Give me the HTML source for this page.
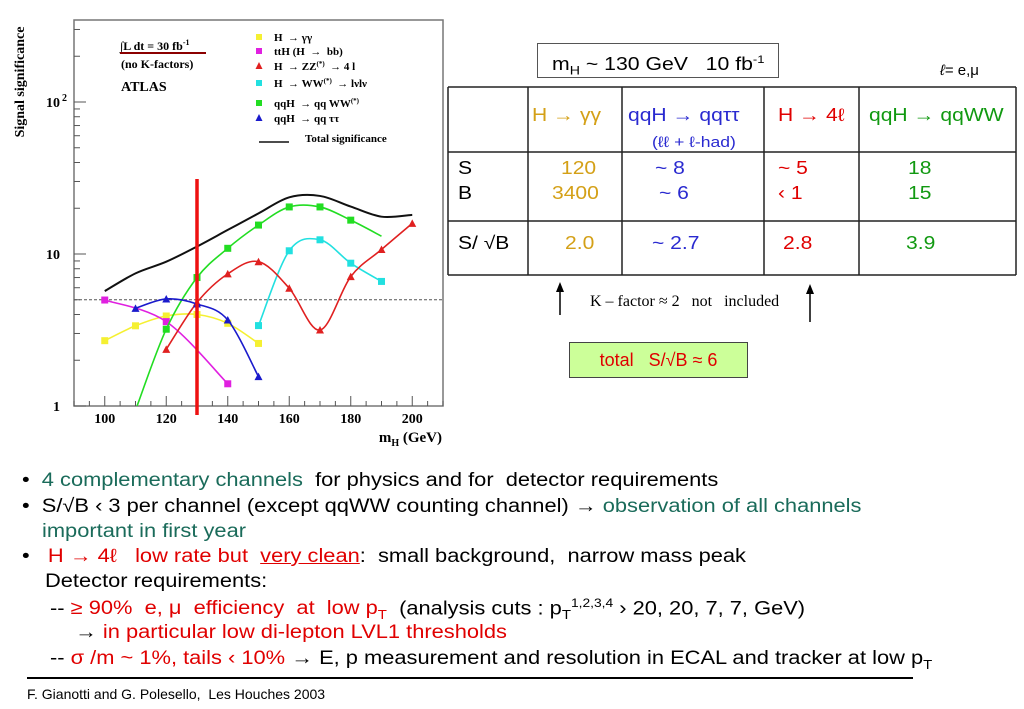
<!DOCTYPE html>
<html><head><meta charset="utf-8">
<style>
body{margin:0;width:1024px;height:709px;background:#fff;position:relative;overflow:hidden;font-family:"Liberation Sans",sans-serif;}
.a{position:absolute;white-space:nowrap;}
.t{font-size:18px;transform:scaleX(1.17);transform-origin:left center;}
.bl{position:absolute;white-space:nowrap;font-size:19px;color:#000;transform:scaleX(1.15);transform-origin:left center;}
.gr{color:#1a6b5a}.rd{color:#e00000}
</style></head>
<body>
<svg width="452" height="452" style="position:absolute;left:0;top:0" id="chart" font-family="Liberation Serif,serif"></svg>

<div class="a" style="left:537px;top:43px;width:242px;height:35px;border:1.5px solid #555;box-sizing:border-box;font-size:18px;line-height:33px;padding-left:14px;"><span style="display:inline-block;transform:scaleX(1.18);transform-origin:left center">m<sub style="font-size:12px">H</sub> ~ 130 GeV &nbsp; 10 fb<sup style="font-size:11px">-1</sup></span></div>
<div class="a" style="left:940px;top:62px;font-size:15px;"><i>ℓ</i>= e,μ</div>
<svg width="1024" height="330" style="position:absolute;left:0;top:0">
<g stroke="#222" stroke-width="1.5">
<line x1="448" y1="87" x2="1016" y2="87"/><line x1="448" y1="152" x2="1016" y2="152"/>
<line x1="448" y1="221" x2="1016" y2="221"/><line x1="448" y1="275" x2="1016" y2="275"/>
<line x1="448" y1="87" x2="448" y2="275"/><line x1="528" y1="87" x2="528" y2="275"/>
<line x1="622" y1="87" x2="622" y2="275"/><line x1="764" y1="87" x2="764" y2="275"/>
<line x1="859" y1="87" x2="859" y2="275"/><line x1="1016" y1="87" x2="1016" y2="275"/>
</g>
<g stroke="#000" stroke-width="1.5"><line x1="560" y1="287" x2="560" y2="315"/><line x1="810" y1="289" x2="810" y2="322"/></g>
<polygon points="560,282 556,292 564,292" fill="#000"/><polygon points="810,284 806,294 814,294" fill="#000"/>
</svg>
<div class="a t" style="left:532px;top:105px;color:#d4a017">H → γγ</div>
<div class="a t" style="left:628px;top:105px;color:#2a2ad0">qqH → qqττ</div>
<div class="a t" style="left:652px;top:134px;color:#2a2ad0;font-size:15px">(ℓℓ + ℓ-had)</div>
<div class="a t" style="left:778px;top:105px;color:#e00000">H → 4ℓ</div>
<div class="a t" style="left:869px;top:105px;color:#119911">qqH → qqWW</div>
<div class="a t" style="left:458px;top:158px">S</div>
<div class="a t" style="left:458px;top:183px">B</div>
<div class="a t" style="left:458px;top:233px">S/ √B</div>
<div class="a t" style="left:561px;top:158px;color:#d4a017">120</div>
<div class="a t" style="left:552px;top:183px;color:#d4a017">3400</div>
<div class="a t" style="left:565px;top:233px;color:#d4a017">2.0</div>
<div class="a t" style="left:655px;top:158px;color:#2a2ad0">~ 8</div>
<div class="a t" style="left:659px;top:183px;color:#2a2ad0">~ 6</div>
<div class="a t" style="left:652px;top:233px;color:#2a2ad0">~ 2.7</div>
<div class="a t" style="left:778px;top:158px;color:#e00000">~ 5</div>
<div class="a t" style="left:778px;top:183px;color:#e00000">‹ 1</div>
<div class="a t" style="left:783px;top:233px;color:#e00000">2.8</div>
<div class="a t" style="left:908px;top:158px;color:#119911">18</div>
<div class="a t" style="left:908px;top:183px;color:#119911">15</div>
<div class="a t" style="left:906px;top:233px;color:#119911">3.9</div>
<div class="a" style="left:590px;top:293px;font-family:'Liberation Serif',serif;font-size:16px">K – factor ≈ 2 &nbsp; not &nbsp; included</div>
<div class="a" style="left:569px;top:342px;width:179px;height:36px;background:#ccff99;border:1.5px solid #444;box-sizing:border-box;color:#e00000;font-size:18px;line-height:34px;text-align:center">total &nbsp; S/√B ≈ 6</div>

<div class="bl" style="left:22px;top:470px">• &nbsp;<span class="gr">4 complementary channels</span> &nbsp;for physics and for &nbsp;detector requirements</div>
<div class="bl" style="left:22px;top:496px">• &nbsp;S/√B ‹ 3 per channel (except qqWW counting channel) → <span class="gr">observation of all channels</span></div>
<div class="bl gr" style="left:42px;top:521px">important in first year</div>
<div class="bl" style="left:22px;top:546px">• &nbsp;&nbsp;<span class="rd">H → 4ℓ &nbsp; low rate but &nbsp;<u>very clean</u></span>: &nbsp;small background, &nbsp;narrow mass peak</div>
<div class="bl" style="left:45px;top:571px">Detector requirements:</div>
<div class="bl" style="left:50px;top:596px">-- <span class="rd">≥ 90% &nbsp;e, μ &nbsp;efficiency &nbsp;at &nbsp;low p<sub style="font-size:13px">T</sub></span> &nbsp;(analysis cuts : p<sub style="font-size:13px">T</sub><sup style="font-size:12px">1,2,3,4</sup> › 20, 20, 7, 7, GeV)</div>
<div class="bl rd" style="left:75px;top:622px"><span style="color:#000">→</span> in particular low di-lepton LVL1 thresholds</div>
<div class="bl" style="left:50px;top:648px">-- <span class="rd">σ /m ~ 1%, tails ‹ 10%</span> → E, p measurement and resolution in ECAL and tracker at low p<sub style="font-size:13px">T</sub></div>
<div class="a" style="left:27px;top:677px;width:886px;height:1.5px;background:#000"></div>
<div class="a" style="left:27px;top:686px;font-size:14px">F. Gianotti and G. Polesello, &nbsp;Les Houches 2003</div>

<script>
const xCats=[100,110,120,130,140,150,160,170,180,190,200];
const xTicks=[100,120,140,160,180,200];
const yTicks=[1,10,100];
const gX=[100,110,120,130,140,150];
const gY=[2.69,3.37,3.91,4.0,3.5,2.58];
const mX=[100,120,140];
const mY=[4.98,3.59,1.40];
const rX=[120,130,140,150,160,170,180,190,200];
const rY=[2.36,4.8,7.4,8.9,5.95,3.16,7.1,10.7,15.9];
const cX=[150,160,170,180,190];
const cY=[3.38,10.5,12.4,8.7,6.6];
const wX=[110.5,120,130,140,150,160,170,180,190];
const wY=[1.0,3.2,7.0,10.9,15.5,20.4,20.4,16.7,13.1];
const bX=[110,120,130,140,150];
const bY=[4.39,5.06,4.69,3.68,1.56];
const tX=[100,110,120,130,140,150,160,170,180,190,200];
const tY=[5.7,7.46,8.9,11.2,14.4,18.5,23.6,24.1,20.5,17.6,18.1];
const threshold=5;
const markedH=130;

const svg=document.getElementById('chart');
const NS='http://www.w3.org/2000/svg';
const L=74,R=443,T=20,B=406;
const xs=v=>L+(v-90)/(210-90)*(R-L);
const ys=v=>B-Math.log10(v)*152;
function mk(tag,attrs,parent){const e=document.createElementNS(NS,tag);for(const k in attrs)e.setAttribute(k,attrs[k]);(parent||svg).appendChild(e);return e;}
function smooth(X,Y){const p=X.map((x,i)=>[xs(x),ys(Y[i])]);let d='M'+p[0][0]+','+p[0][1];
 for(let i=0;i<p.length-1;i++){const p0=p[i-1]||p[i],p1=p[i],p2=p[i+1],p3=p[i+2]||p2;
  d+=' C'+(p1[0]+(p2[0]-p0[0])/6)+','+(p1[1]+(p2[1]-p0[1])/6)+' '+(p2[0]-(p3[0]-p1[0])/6)+','+(p2[1]-(p3[1]-p1[1])/6)+' '+p2[0]+','+p2[1];}
 return d;}
let f=mk('rect',{x:L,y:T,width:R-L,height:B-T,fill:'none',stroke:'#777','stroke-width':1.5});

for(let v=90;v<=210;v+=5){const big=v%20===0;mk('line',{x1:xs(v),x2:xs(v),y1:B,y2:B-(big?10:5),stroke:'#555'});}
xTicks.forEach(v=>{const t=mk('text',{x:xs(v),y:B+17,'text-anchor':'middle','font-size':14,'font-weight':'bold'});t.textContent=v;
 });
for(let d=0;d<3;d++)for(let k=1;k<10;k++){const v=k*Math.pow(10,d);const y=ys(v);if(y<T)continue;mk('line',{x1:L,x2:L+(k===1?12:6),y1:y,y2:y,stroke:'#555'});}
yTicks.forEach(v=>{const t=mk('text',{x:L-14,y:ys(v)+5,'text-anchor':'end','font-size':14,'font-weight':'bold'});
 t.textContent=v===100?'10':String(v);
 if(v===100){const s=mk('text',{x:L-12,y:ys(v)-1,'font-size':10,'font-weight':'bold'});s.textContent='2';}});
let yl=mk('text',{x:24,y:82,'font-size':14,'font-weight':'bold','text-anchor':'middle',transform:'rotate(-90 24 82)'});yl.textContent='Signal significance';

let xl=mk('text',{x:442,y:442,'font-size':15,'font-weight':'bold','text-anchor':'end'});xl.innerHTML='m<tspan font-size="10" dy="4">H</tspan><tspan dy="-4"> (GeV)</tspan>';

let th=mk('line',{x1:L,x2:R,y1:ys(threshold),y2:ys(threshold),stroke:'#555','stroke-dasharray':'3,2'});

const cp=mk('clipPath',{id:'cl'});mk('rect',{x:L,y:T,width:R-L,height:B-T},cp);
function series(name,X,Y,color,marker,markIdx,w){
 const g=mk('g',{'clip-path':'url(#cl)'});
 mk('path',{d:smooth(X,Y),fill:'none',stroke:color,'stroke-width':w||1.6},g);
 if(!marker)return;
 X.forEach((x,i)=>{if(markIdx&&!markIdx(x))return;const cx=xs(x),cy=ys(Y[i]);let m;
  if(marker==='sq')m=mk('rect',{x:cx-3.5,y:cy-3.5,width:7,height:7,fill:color},g);
  else m=mk('polygon',{points:(cx)+','+(cy-4)+' '+(cx-4)+','+(cy+3.5)+' '+(cx+4)+','+(cy+3.5),fill:color},g);
  });
}
series('total-significance',tX,tY,'#111',null,null,2);
series('hgg-series',gX,gY,'#f5f032','sq');
series('tth-series',mX,mY,'#e020e0','sq');
series('qqww-series',wX,wY,'#22dd22','sq',x=>x>=120&&x<=180);
series('hww-series',cX,cY,'#22e0e0','sq');
series('hzz-series',rX,rY,'#e02020','tri');
series('qqtautau-series',bX,bY,'#1a1acc','tri');
let vl=mk('line',{x1:xs(markedH),x2:xs(markedH),y1:179,y2:415,stroke:'#ee1111','stroke-width':3.5});

function txt(x,y,s,sz,name){const t=mk('text',{x:x,y:y,'font-size':sz,'font-weight':'bold'});t.innerHTML=s;
 return t;}
txt(120,50,'∫L dt = 30 fb<tspan font-size="8" dy="-5">-1</tspan>',12,'luminosity-label');
mk('line',{x1:120,x2:206,y1:53,y2:53,stroke:'#8b0000','stroke-width':2});
txt(121,68,'(no K-factors)',12,'kfactor-label');
txt(121,91,'ATLAS',14,'atlas-label');
[['sq','#f5f032','H &#160;→ γγ',37],['sq','#e020e0','ttH (H &#160;→ &#160;bb)',51],['tri','#e02020','H &#160;→ ZZ<tspan font-size="7" dy="-4">(*)</tspan><tspan dy="4"> &#160;→ 4 l</tspan>',66],
 ['sq','#22e0e0','H &#160;→ WW<tspan font-size="7" dy="-4">(*)</tspan><tspan dy="4"> &#160;→ lνlν</tspan>',83],['sq','#22dd22','qqH &#160;→ qq WW<tspan font-size="7" dy="-4">(*)</tspan>',103],
 ['tri','#1a1acc','qqH &#160;→ qq ττ',118]].forEach(e=>{const cx=259,cy=e[3];
 if(e[0]==='sq')mk('rect',{x:cx-3,y:cy-3,width:6,height:6,fill:e[1]});else mk('polygon',{points:cx+','+(cy-4)+' '+(cx-3.5)+','+(cy+3)+' '+(cx+3.5)+','+(cy+3),fill:e[1]});
 txt(274,cy+4,e[2],11,'legend-entry');});
mk('line',{x1:259,x2:289,y1:142,y2:142,stroke:'#111','stroke-width':1.5});
txt(305,142,'Total significance',11,'legend-entry');
</script>
</body></html>
